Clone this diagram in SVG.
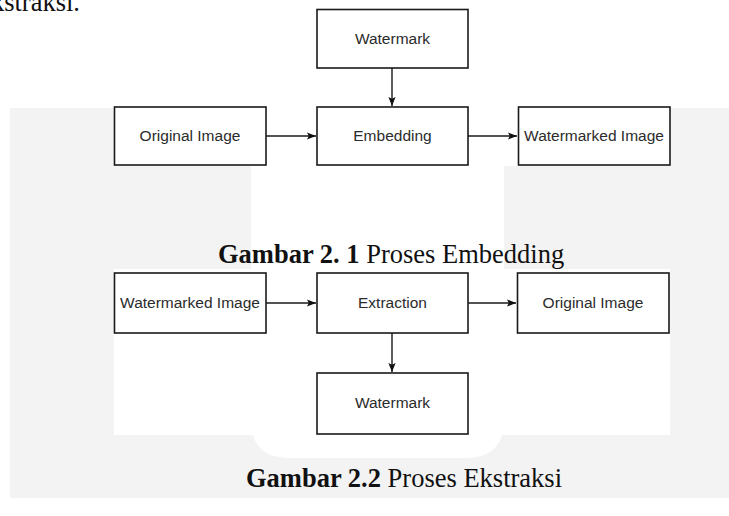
<svg xmlns="http://www.w3.org/2000/svg" width="729" height="516" viewBox="0 0 729 516">
<defs>
<style>
.box{fill:#ffffff;stroke:#1a1a1a;stroke-width:1.6}
.lbl{font-family:"Liberation Sans",Arial,sans-serif;font-size:15.5px;fill:#2b2b2b;text-anchor:middle}
.edge{stroke:#1a1a1a;stroke-width:1.4;fill:none;marker-end:url(#ah)}
.cap{font-family:"Liberation Serif","Times New Roman",serif;font-size:26.5px;fill:#111}
.wm{fill:#f3f3f3}
</style>
<marker id="ah" viewBox="0 0 10 10" refX="10" refY="5" markerWidth="9" markerHeight="9" markerUnits="userSpaceOnUse" orient="auto">
<path d="M0,1 L10,5 L0,9 L2,5 Z" fill="#111"/>
</marker>
</defs>
<rect width="729" height="516" fill="#ffffff"/>
<g id="background">
<path class="wm" d="M10,108 H729 V498 H10 Z M251,108 V420 Q251,458 290,458 H465 Q504,458 504,420 V108 Z" fill-rule="evenodd"/>
<rect x="114" y="0" width="557" height="166" fill="#ffffff"/>
<rect x="114" y="269" width="556" height="166" fill="#ffffff"/>
</g>
<text class="cap" x="80" y="11" text-anchor="end">kstraksi.</text>
<g id="connectors">
<line class="edge" x1="392" y1="68" x2="392" y2="106"/>
<line class="edge" x1="266" y1="136" x2="316" y2="136"/>
<line class="edge" x1="468" y1="136" x2="517" y2="136"/>
<line class="edge" x1="266" y1="303" x2="316" y2="303"/>
<line class="edge" x1="468" y1="303" x2="516" y2="303"/>
<line class="edge" x1="392" y1="333" x2="392" y2="372"/>
</g>
<g id="n1-watermark"><rect class="box" x="317" y="9.5" width="151" height="58.5"/><text class="lbl" x="392.5" y="44">Watermark</text></g>
<g id="n1-original"><rect class="box" x="114.5" y="107" width="151.5" height="58"/><text class="lbl" x="190" y="141">Original Image</text></g>
<g id="n1-embedding"><rect class="box" x="317" y="107" width="151" height="58"/><text class="lbl" x="392.5" y="141">Embedding</text></g>
<g id="n1-watermarked"><rect class="box" x="518.5" y="107" width="151.5" height="58"/><text class="lbl" x="594" y="141">Watermarked Image</text></g>
<text class="cap" x="218" y="263"><tspan font-weight="bold">Gambar 2. 1</tspan> Proses Embedding</text>
<g id="n2-watermarked"><rect class="box" x="114.5" y="273" width="151.5" height="60"/><text class="lbl" x="190" y="308">Watermarked Image</text></g>
<g id="n2-extraction"><rect class="box" x="317" y="273" width="151" height="60"/><text class="lbl" x="392.5" y="308">Extraction</text></g>
<g id="n2-original"><rect class="box" x="517.5" y="273" width="151.5" height="60"/><text class="lbl" x="593" y="308">Original Image</text></g>
<g id="n2-watermark"><rect class="box" x="317" y="373" width="151" height="61"/><text class="lbl" x="392.5" y="408">Watermark</text></g>
<text class="cap" x="246" y="487"><tspan font-weight="bold">Gambar 2.2</tspan> Proses Ekstraksi</text>
</svg>
